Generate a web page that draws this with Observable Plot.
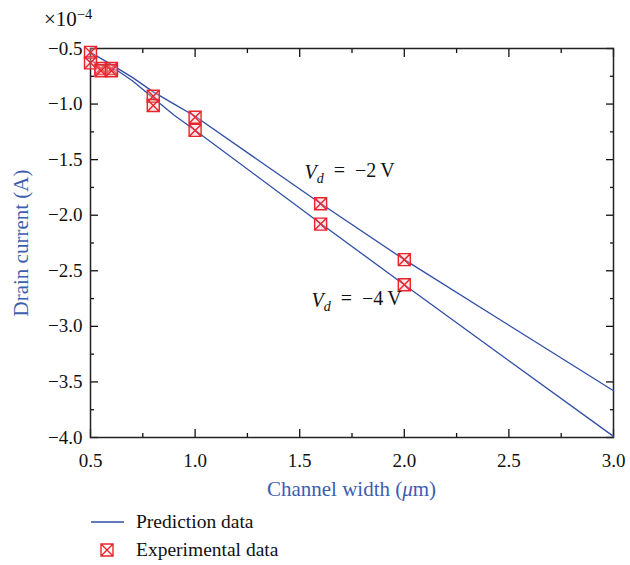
<!DOCTYPE html>
<html><head><meta charset="utf-8">
<script src="https://cdn.jsdelivr.net/npm/d3@7"></script>
<script src="https://cdn.jsdelivr.net/npm/@observablehq/plot@0.6"></script>
<style>
body{margin:0;background:#fff;}
svg{font-family:"Liberation Serif","DejaVu Serif",serif;}
</style>
</head><body><div id="chart"></div>
<script>
// Prediction lines
const predX_m2 = [0.5, 0.6, 0.7, 0.8, 0.9, 1.0, 1.6, 2.0, 2.5, 3.0];
const predY_m2 = [-0.535, -0.645, -0.76, -0.89, -1.0, -1.11, -1.895, -2.40, -2.99, -3.58];
const predX_m4 = [0.5, 0.55, 0.63, 0.7, 0.8, 0.9, 1.0, 1.6, 2.0, 2.5, 3.0];
const predY_m4 = [-0.61, -0.65, -0.70, -0.79, -0.945, -1.10, -1.235, -2.075, -2.625, -3.31, -3.99];
// Experimental points
const expX_m2 = [0.5, 0.55, 0.6, 0.8, 1.0, 1.6, 2.0];
const expY_m2 = [-0.535, -0.68, -0.68, -0.93, -1.118, -1.897, -2.40];
const expX_m4 = [0.5, 0.55, 0.6, 0.8, 1.0, 1.6, 2.0];
const expY_m4 = [-0.629, -0.70, -0.70, -1.013, -1.237, -2.08, -2.625];
// Annotations
const annX = [1.523, 1.556];
const annY = [-1.615, -2.766];
const annLabel = ["Vd = −2 V", "Vd = −4 V"];
// Ticks
const xMajor = [0.5, 1.0, 1.5, 2.0, 2.5, 3.0];
const xMinor = [0.75, 1.25, 1.75, 2.25, 2.75];
const yMajor = [-0.5, -1.0, -1.5, -2.0, -2.5, -3.0, -3.5, -4.0];
const yMinor = [-0.75, -1.25, -1.75, -2.25, -2.75, -3.25, -3.75];

const lineColor = "#2f4ea6";
const markColor = "#e8242c";
const labelColor = "#3d5db0";

const pred = [
  ...predX_m2.map((x, i) => ({x, y: predY_m2[i], s: "-2"})),
  ...predX_m4.map((x, i) => ({x, y: predY_m4[i], s: "-4"}))
];
const exp = [
  ...expX_m2.map((x, i) => ({x, y: expY_m2[i], s: "-2"})),
  ...expX_m4.map((x, i) => ({x, y: expY_m4[i], s: "-4"}))
];
const ann = annX.map((x, i) => ({x, y: annY[i], label: annLabel[i]}));

const boxX = {
  draw(context, size) {
    const r = Math.sqrt(size / Math.PI);
    context.moveTo(-r, -r); context.lineTo(r, -r); context.lineTo(r, r); context.lineTo(-r, r); context.closePath();
    context.moveTo(-r, -r); context.lineTo(r, r);
    context.moveTo(r, -r); context.lineTo(-r, r);
  }
};

const fmt = d3.format(".1f");
const W = 630, H = 565;
const plot = Plot.plot({
  width: W, height: H,
  marginTop: 48, marginRight: 17, marginBottom: 128, marginLeft: 90,
  x: {domain: [0.5, 3.0]},
  y: {domain: [-4.0, -0.5]},
  style: {fontFamily: '"Liberation Serif","DejaVu Serif",serif', fontSize: "18px", color: "#111"},
  marks: [
    // inward ticks
    Plot.axisX(xMajor, {anchor: "bottom", tickSize: -8, tickFormat: () => "", label: null, strokeWidth: 1.3}),
    Plot.axisX(xMinor, {anchor: "bottom", tickSize: -4, tickFormat: () => "", label: null, strokeWidth: 1.3}),
    Plot.axisX(xMajor, {anchor: "top", tickSize: -8, tickFormat: () => "", label: null, strokeWidth: 1.3}),
    Plot.axisX(xMinor, {anchor: "top", tickSize: -4, tickFormat: () => "", label: null, strokeWidth: 1.3}),
    Plot.axisY(yMajor, {anchor: "left", tickSize: -8, tickFormat: () => "", label: null, strokeWidth: 1.3}),
    Plot.axisY(yMinor, {anchor: "left", tickSize: -4, tickFormat: () => "", label: null, strokeWidth: 1.3}),
    Plot.axisY(yMajor, {anchor: "right", tickSize: -8, tickFormat: () => "", label: null, strokeWidth: 1.3}),
    Plot.axisY(yMinor, {anchor: "right", tickSize: -4, tickFormat: () => "", label: null, strokeWidth: 1.3}),
    // tick labels
    Plot.axisX(xMajor, {anchor: "bottom", tickSize: 0, tickPadding: 16, tickFormat: fmt, label: null, fontSize: 19}),
    Plot.axisY(yMajor, {anchor: "left", tickSize: 0, tickPadding: 8, tickFormat: fmt, label: null, fontSize: 19}),
    Plot.frame({stroke: "#222", strokeWidth: 1.5}),
    Plot.line(pred, {x: "x", y: "y", z: "s", stroke: lineColor, strokeWidth: 1.3}),
    Plot.dot(exp, {x: "x", y: "y", symbol: boxX, r: 6, stroke: markColor, strokeWidth: 1.4, fill: "#f7b8bb", fillOpacity: 0.35}),
    Plot.text(ann, {x: "x", y: "y", text: "label", textAnchor: "start", fontSize: 20, fill: "#111"})
  ]
});
document.getElementById("chart").appendChild(plot);

const svg = d3.select(plot);
// rich annotation text
svg.selectAll("text").filter(function() { return this.textContent.startsWith("Vd"); }).each(function() {
  const t = d3.select(this);
  const rest = this.textContent.slice(2);
  t.text("");
  t.append("tspan").attr("font-style", "italic").text("V");
  t.append("tspan").attr("font-style", "italic").attr("font-size", 14).attr("dy", "0.3em").text("d");
  t.append("tspan").attr("dy", "-0.3em").attr("xml:space", "preserve").text(rest.replace(" = ", "\u2002=\u2002").replace(" V", "\u2009V"));
});

// axis titles
const xt = svg.append("text").attr("x", (90 + 613) / 2).attr("y", 496)
  .attr("text-anchor", "middle").attr("fill", labelColor).attr("font-size", 21);
xt.append("tspan").text("Channel width (");
xt.append("tspan").attr("font-style", "italic").text("μ");
xt.append("tspan").text("m)");
svg.append("text").attr("transform", `translate(28,${243}) rotate(-90)`)
  .attr("text-anchor", "middle").attr("fill", labelColor).attr("font-size", 21).text("Drain current (A)");
// exponent
const ex = svg.append("text").attr("x", 44).attr("y", 26).attr("text-anchor", "start").attr("font-size", 21).attr("fill", "#111");
ex.append("tspan").text("×10");
ex.append("tspan").attr("font-size", 14.5).attr("dy", "-0.5em").text("−4");

// legend
const lg = svg.append("g").attr("text-anchor", "start");
lg.append("line").attr("x1", 91).attr("x2", 124).attr("y1", 522).attr("y2", 522).attr("stroke", lineColor).attr("stroke-width", 1.3);
lg.append("text").attr("x", 136).attr("y", 528).attr("font-size", 19.5).attr("fill", "#111").text("Prediction data");
const r = 6, cx = 107, cy = 550;
lg.append("path").attr("d", `M${cx-r},${cy-r}H${cx+r}V${cy+r}H${cx-r}Z M${cx-r},${cy-r}L${cx+r},${cy+r} M${cx+r},${cy-r}L${cx-r},${cy+r}`)
  .attr("fill", "none").attr("stroke", markColor).attr("stroke-width", 1.4);
lg.append("text").attr("x", 136).attr("y", 556).attr("font-size", 19.5).attr("fill", "#111").text("Experimental data");
</script>
</body></html>
